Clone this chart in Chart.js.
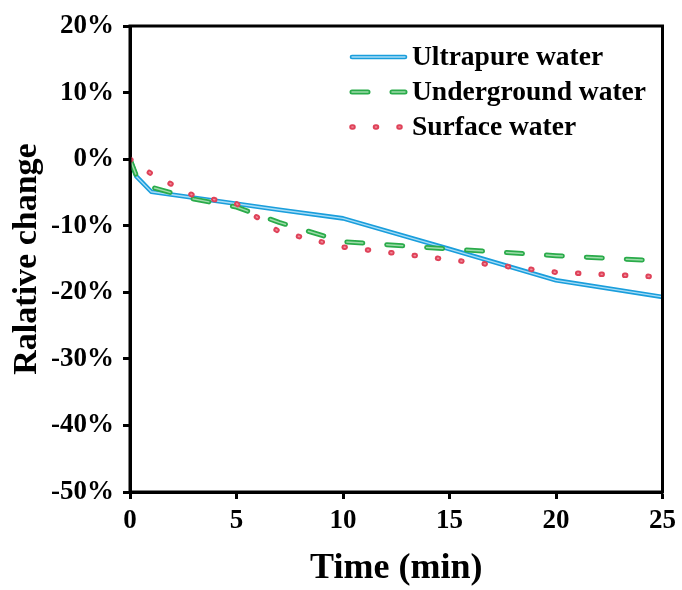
<!DOCTYPE html>
<html>
<head>
<meta charset="utf-8">
<script src="https://cdn.jsdelivr.net/npm/chart.js@4.4.1/dist/chart.umd.min.js"></script>
<style>
  html, body { margin: 0; padding: 0; background: #fff; }
</style>
</head>
<body>
<canvas id="graficoAgua" width="682" height="590"></canvas>
<script>
// time points (min)
const times = [0, 0.3, 1, 3, 5, 7, 10, 15, 20, 25];
// relative change (%); null = no point there
const ultrapure = [0, -2.6, -4.9, -5.8, -6.7, -7.6, -8.9, -13.5, -18.2, -20.7];
const underground = [0, -2.5, -4.2, -6.0, -7.2, -9.5, -12.4, -13.5, -14.5, -15.3];
const surface = [0, null, -2.2, -5.5, -6.7, -10.9, -13.2, -15.1, -17.0, -17.7];

const seriesNames = ['Ultrapure water', 'Underground water', 'Surface water'];
const xTicks = [0, 5, 10, 15, 20, 25];
const yTicks = [-50, -40, -30, -20, -10, 0, 10, 20];

const serif = "'Liberation Serif', 'Times New Roman', serif";

// each series is drawn twice: a coloured outline and a pale core
const styles = [
  { outer: '#1a9edc', inner: '#a9ddf6', dash: [], wOut: 4.6, wIn: 1.3 },
  { outer: '#2aab4a', inner: '#9edcaa', dash: [16, 24], wOut: 5, wIn: 1.5 },
  { outer: '#df4259', inner: '#f08f9d', dash: [1, 22.5], wOut: 5.5, wIn: 1.6 }
];
const values = [ultrapure, underground, surface];

const toPoints = arr => times.map((t, i) => ({ x: t, y: arr[i] }));

const datasets = [];
values.forEach((arr, i) => {
  const st = styles[i];
  const base = 10 - i * 2;
  datasets.push({
    label: seriesNames[i],
    data: toPoints(arr),
    borderColor: st.outer,
    borderWidth: st.wOut,
    borderDash: st.dash,
    borderCapStyle: 'round',
    borderJoinStyle: 'round',
    pointRadius: 0,
    spanGaps: true,
    tension: 0,
    order: base + 1
  });
  datasets.push({
    label: '',
    data: toPoints(arr),
    borderColor: st.inner,
    borderWidth: st.wIn,
    borderDash: st.dash,
    borderCapStyle: 'round',
    borderJoinStyle: 'round',
    pointRadius: 0,
    spanGaps: true,
    tension: 0,
    order: base
  });
});

// full box round the plot
const frame = {
  id: 'frame',
  afterDatasetsDraw(chart) {
    const { ctx, chartArea: a } = chart;
    ctx.save();
    ctx.strokeStyle = '#000';
    ctx.lineWidth = 3;
    ctx.strokeRect(a.left, a.top, a.right - a.left, a.bottom - a.top);
    ctx.restore();
  }
};

// legend inside the plot, top right
const insideLegend = {
  id: 'insideLegend',
  afterDraw(chart) {
    const ctx = chart.ctx;
    ctx.save();
    ctx.font = 'bold 27.5px ' + serif;
    ctx.fillStyle = '#000';
    ctx.textBaseline = 'alphabetic';
    seriesNames.forEach((name, i) => {
      const st = styles[i];
      const y = 57 + i * 35;
      [[st.outer, st.wOut], [st.inner, st.wIn]].forEach(([c, w]) => {
        ctx.beginPath();
        ctx.strokeStyle = c;
        ctx.lineWidth = w;
        ctx.lineCap = 'round';
        ctx.setLineDash(st.dash);
        ctx.moveTo(352, y);
        ctx.lineTo(405, y);
        ctx.stroke();
      });
      ctx.setLineDash([]);
      ctx.fillText(name, 412, y + 7.5);
    });
    ctx.restore();
  }
};

const tickFont = { family: serif, size: 27, weight: 'bold' };

new Chart(document.getElementById('graficoAgua').getContext('2d'), {
  type: 'line',
  data: { datasets },
  options: {
    responsive: false,
    animation: false,
    layout: { padding: { left: 0, right: 17, top: 26, bottom: 0 } },
    plugins: {
      legend: { display: false },
      tooltip: { enabled: false }
    },
    scales: {
      x: {
        type: 'linear',
        min: 0,
        max: 25,
        afterBuildTicks: s => { s.ticks = xTicks.map(v => ({ value: v })); },
        afterFit: s => { s.height = 98; },
        ticks: { color: '#000', font: tickFont, padding: 6, maxRotation: 0 },
        grid: { drawOnChartArea: false, drawTicks: true, tickLength: 7, tickWidth: 3, tickColor: '#000' },
        border: { display: true, color: '#000', width: 3 },
        title: {
          display: true,
          text: 'Time (min)',
          color: '#000',
          font: { family: serif, size: 36, weight: 'bold' },
          padding: { top: 0, bottom: 0 }
        }
      },
      y: {
        min: -50,
        max: 20,
        afterBuildTicks: s => { s.ticks = yTicks.map(v => ({ value: v })); },
        afterFit: s => { s.width = 130; },
        ticks: { color: '#000', font: tickFont, padding: 9, callback: v => v + '%' },
        grid: { drawOnChartArea: false, drawTicks: true, tickLength: 7, tickWidth: 3, tickColor: '#000' },
        border: { display: true, color: '#000', width: 3 },
        title: {
          display: true,
          text: 'Ralative change',
          color: '#000',
          font: { family: serif, size: 34, weight: 'bold' },
          padding: { top: 7, bottom: 0 }
        }
      }
    }
  },
  plugins: [frame, insideLegend]
});
</script>
</body>
</html>
